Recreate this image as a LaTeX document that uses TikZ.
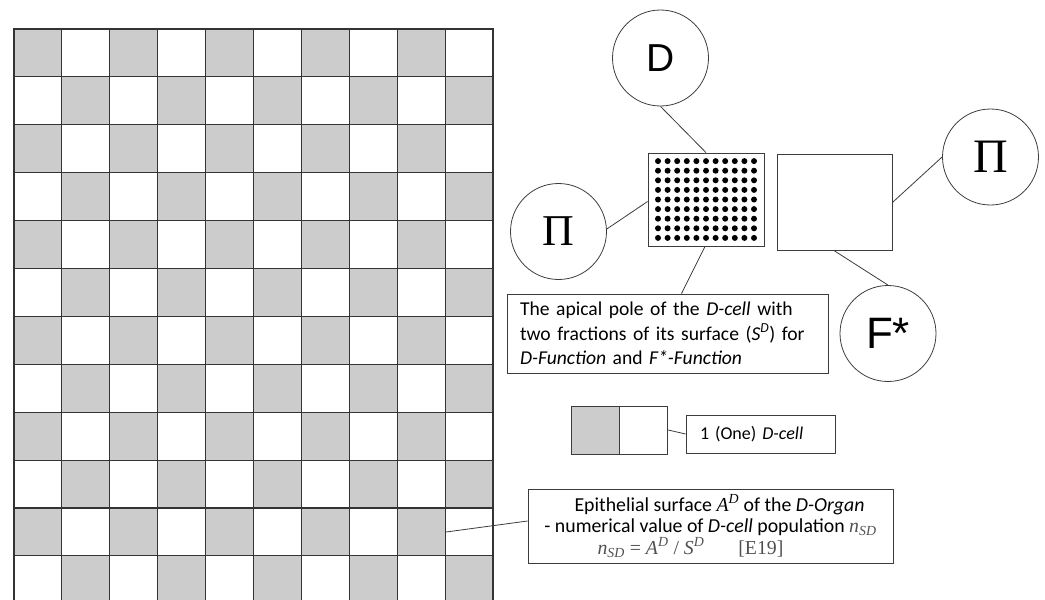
\documentclass[tikz,border=0pt]{standalone}
\usepackage{fontspec}
\setmainfont{Carlito}
\newfontfamily\arialfont{Liberation Sans}
\newfontfamily\timesfont{Liberation Serif}
\usetikzlibrary{positioning}

\definecolor{cellgray}{HTML}{CCCCCC}
\definecolor{edgegray}{HTML}{3C3C3C}
\definecolor{formulagray}{HTML}{505050}

\newcommand{\cellSize}{47.9}
\newcommand{\circleSize}{96pt}
\newcommand{\dcVar}[1]{{\timesfont\itshape #1}}
\newcommand{\dcSup}[1]{\textsuperscript{\timesfont\itshape #1}}

\tikzset{
  dc base/.style={font=\fontsize{17.3}{21}\selectfont},
  dc line/.style={draw=edgegray, line width=0.8pt},
  dc cell/.style={draw=black!80, line width=1.1pt},
  dc circle/.style={draw=edgegray, circle, line width=0.8pt,
    minimum size=\circleSize, inner sep=0pt},
  dc box/.style={draw=edgegray, rectangle, line width=0.8pt},
  dc label/.style={dc box, align=left, inner ysep=0pt},
  dc apex/.style={dc box, minimum width=116pt, minimum height=93pt,
    path picture={
      \foreach \i in {-5,...,5}
        \foreach \j in {-4,...,4}
          \fill ([xshift=\i*9.6pt, yshift=\j*9.6pt]path picture bounding box.center)
            circle[radius=3pt];
    }},
}

\begin{document}
\begin{tikzpicture}[x=1pt, y=-1pt, dc base]
\useasboundingbox (0,0) rectangle (1045,600);

% epithelial surface of the organ
\begin{scope}
\clip (0,0) rectangle (1045,600);
\foreach \r in {0,...,11}
  \foreach \c in {0,...,9} {
    \pgfmathsetmacro{\cellfill}{mod(\r+\c,2)==0 ? "cellgray" : "white"}
    \filldraw[dc cell, fill=\cellfill]
      (14+\c*\cellSize, 29+\r*\cellSize) rectangle ++(\cellSize,\cellSize);
  }
\end{scope}
\coordinate (pin) at (446,532);

% apical pole of the D-cell
\node (apex)  [dc apex] at (706,199.5) {};
\node (fstarfield) [dc box, minimum width=115pt, minimum height=96pt] at (834.5,202.5) {};

\node (dfun)    [dc circle, font=\arialfont\fontsize{39}{39}\selectfont] at (660.5,58) {D};
\node (pileft)  [dc circle, font=\timesfont\fontsize{44}{44}\selectfont] at (558.5,231.5) {Π};
\node (piright) [dc circle, font=\timesfont\fontsize{48}{48}\selectfont] at (990.5,157) {Π};
\node (fstar)   [dc circle, font=\arialfont\fontsize{44}{44}\selectfont] at (888,333.5) {F*};

\node (apexlabel) [dc label, text width=295pt, inner xsep=13pt, minimum height=79pt,
  font=\fontsize{19.6}{24.5}\selectfont] at (667.5,333.5)
  {The apical pole of the \textit{D-cell} with\\
   two fractions of its surface (\textit{S\textsuperscript{D}}) for\\
   \textit{D-Function} and \textit{F*-Function}};

% one D-cell
\node (dgray)  [dc box, fill=cellgray, minimum size=48pt] at (595,430) {};
\node (dwhite) [dc box, fill=white, minimum size=48pt, right=0pt of dgray] {};
\node (onecell) [dc label, text width=121pt, inner xsep=14pt, minimum height=38pt,
  font=\fontsize{18}{21}\selectfont] at (760.5,434) {1 (One) \textit{D-cell}};

% organ surface label
\node (organ) [dc box, align=center, minimum width=365pt, minimum height=74pt,
  inner sep=0pt, font=\fontsize{19.8}{21.5}\selectfont] at (710.5,526)
  {\hspace*{18pt}Epithelial surface \dcVar{A}\dcSup{D} of the \textit{D-Organ}\\
   - numerical value of \textit{D-cell} population
     {\color{formulagray}\dcVar{n}\textsubscript{\timesfont\itshape SD}}\\
   {\color{formulagray}\timesfont\dcVar{n}\textsubscript{\itshape SD} = \dcVar{A}\dcSup{D} / \dcVar{S}\dcSup{D}\hspace{34pt}[E19]}\hspace*{40pt}};

\draw [dc line] (dfun.south) -- (apex.north);
\draw [dc line] (pileft.3) -- ([yshift=-2pt]apex.west);
\draw [dc line] ([xshift=-1pt]apex.south) -- ([xshift=14pt]apexlabel.north);
\draw [dc line] (fstarfield.east) -- (piright.west);
\draw [dc line] (fstarfield.south) -- (fstar.north);
\draw [dc line] (dwhite.east) -- (onecell.west);
\draw [dc line] (pin) -- ([yshift=5pt]organ.west);
\end{tikzpicture}
\end{document}
